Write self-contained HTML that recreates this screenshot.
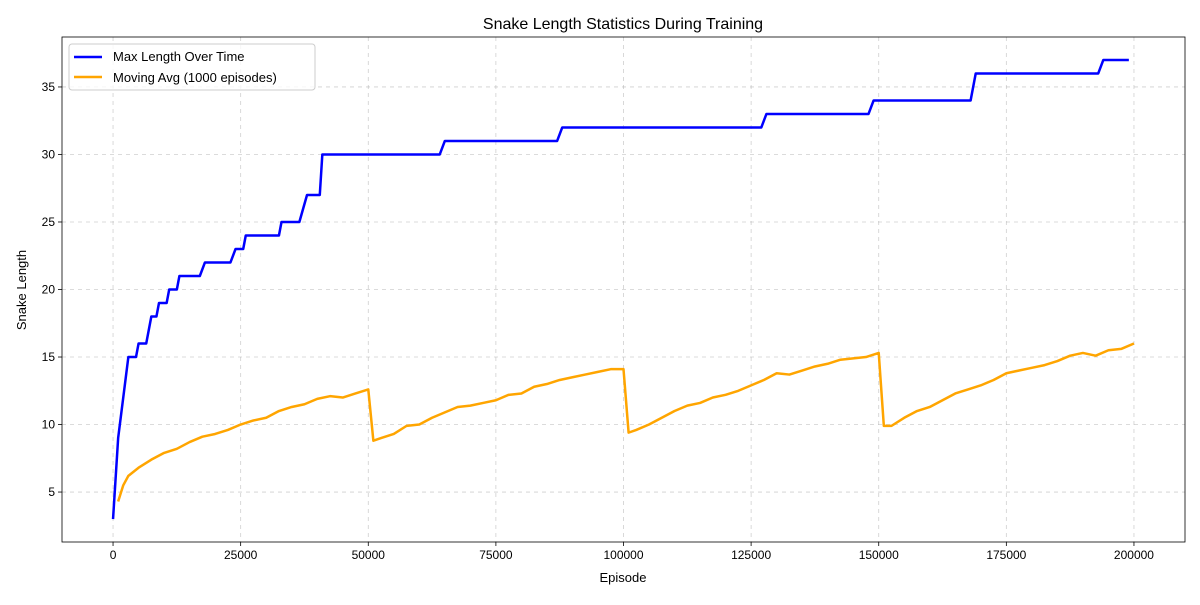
<!DOCTYPE html>
<html><head><meta charset="utf-8"><style>
body{margin:0;background:#fff;}
svg text{font-family:"Liberation Sans","DejaVu Sans",sans-serif;fill:#000;}
</style></head><body>
<svg id="chart" width="1200" height="600"></svg>
<script>
const maxEpisodes=[0,1000,3000,4500,5000,6500,7500,8500,9000,10500,11000,12500,13000,17000,18000,23000,24000,25500,26000,32500,33000,36500,38000,40500,41000,64000,65000,87000,88000,127000,128000,148000,149000,168000,169000,193000,194000,199000];
const maxValues=[3,9,15,15,16,16,18,18,19,19,20,20,21,21,22,22,23,23,24,24,25,25,27,27,30,30,31,31,32,32,33,33,34,34,36,36,37,37];
const avgEpisodes=[1000,2000,3000,5000,7500,10000,12500,15000,17500,20000,22500,25000,27500,30000,32500,35000,37500,40000,42500,45000,47500,50000,51000,52500,55000,57500,60000,62500,65000,67500,70000,72500,75000,77500,80000,82500,85000,87500,90000,92500,95000,97500,100000,101000,102500,105000,107500,110000,112500,115000,117500,120000,122500,125000,127500,130000,132500,135000,137500,140000,142500,145000,147500,150000,151000,152500,155000,157500,160000,162500,165000,167500,170000,172500,175000,177500,180000,182500,185000,187500,190000,192500,195000,197500,200000];
const avgValues=[4.3,5.5,6.2,6.8,7.4,7.9,8.2,8.7,9.1,9.3,9.6,10.0,10.3,10.5,11.0,11.3,11.5,11.9,12.1,12.0,12.3,12.6,8.8,9.0,9.3,9.9,10.0,10.5,10.9,11.3,11.4,11.6,11.8,12.2,12.3,12.8,13.0,13.3,13.5,13.7,13.9,14.1,14.1,9.4,9.6,10.0,10.5,11.0,11.4,11.6,12.0,12.2,12.5,12.9,13.3,13.8,13.7,14.0,14.3,14.5,14.8,14.9,15.0,15.3,9.9,9.9,10.5,11.0,11.3,11.8,12.3,12.6,12.9,13.3,13.8,14.0,14.2,14.4,14.7,15.1,15.3,15.1,15.5,15.6,16.0];
const xTicks=[0,25000,50000,75000,100000,125000,150000,175000,200000];
const yTicks=[5,10,15,20,25,30,35];
const L=62,R=1185,T=37,B=542,xmin=-10000,xmax=210000,ymin=1.3,ymax=38.7;
const sx=v=>L+(v-xmin)/(xmax-xmin)*(R-L);
const sy=v=>B-(v-ymin)/(ymax-ymin)*(B-T);
const svg=document.getElementById('chart');const NS='http://www.w3.org/2000/svg';
function mk(tag,attrs,parent){const e=document.createElementNS(NS,tag);for(const k in attrs)e.setAttribute(k,attrs[k]);(parent||svg).appendChild(e);return e;}
xTicks.forEach(t=>{const x=sx(t);
 const g=mk('line',{x1:x,x2:x,y1:T,y2:B,stroke:'#b0b0b0','stroke-width':0.8,'stroke-dasharray':'4,4',opacity:0.6});
 
 mk('line',{x1:x,x2:x,y1:B,y2:B+4,stroke:'#000','stroke-width':0.8});
 const tx=mk('text',{x:x,y:B+17,'text-anchor':'middle','font-size':12});tx.textContent=t;
 });
yTicks.forEach(t=>{const y=sy(t);
 const g=mk('line',{x1:L,x2:R,y1:y,y2:y,stroke:'#b0b0b0','stroke-width':0.8,'stroke-dasharray':'4,4',opacity:0.6});
 
 mk('line',{x1:L-4,x2:L,y1:y,y2:y,stroke:'#000','stroke-width':0.8});
 const tx=mk('text',{x:L-7,y:y+4,'text-anchor':'end','font-size':12});tx.textContent=t;
 });
const p1=mk('polyline',{points:maxEpisodes.map((e,i)=>sx(e)+','+sy(maxValues[i])).join(' '),fill:'none',stroke:'#0000ff','stroke-width':2.5,'stroke-linejoin':'round'});

const p2=mk('polyline',{points:avgEpisodes.map((e,i)=>sx(e)+','+sy(avgValues[i])).join(' '),fill:'none',stroke:'#ffa500','stroke-width':2.5,'stroke-linejoin':'round'});

const fr=mk('rect',{x:L,y:T,width:R-L,height:B-T,fill:'none',stroke:'#000','stroke-width':0.8});

</script>
<script>
(function(){const svg=document.getElementById('chart');const NS='http://www.w3.org/2000/svg';
function mk(tag,attrs){const e=document.createElementNS(NS,tag);for(const k in attrs)e.setAttribute(k,attrs[k]);svg.appendChild(e);return e;}
const t=mk('text',{x:623,y:29,'text-anchor':'middle','font-size':16});t.textContent='Snake Length Statistics During Training';

const xl=mk('text',{x:623,y:582,'text-anchor':'middle','font-size':13});xl.textContent='Episode';

const yl=mk('text',{x:26,y:290,'text-anchor':'middle','font-size':13,transform:'rotate(-90 26 290)'});yl.textContent='Snake Length';

const lg=mk('rect',{x:69,y:44,width:246,height:46,fill:'#fff','fill-opacity':0.8,stroke:'#ccc',rx:3});

mk('line',{x1:74,x2:102,y1:57,y2:57,stroke:'#0000ff','stroke-width':2.5});
const a=mk('text',{x:113,y:61,'font-size':13});a.textContent='Max Length Over Time';

mk('line',{x1:74,x2:102,y1:77,y2:77,stroke:'#ffa500','stroke-width':2.5});
const b=mk('text',{x:113,y:82,'font-size':13});b.textContent='Moving Avg (1000 episodes)';

})();
</script>
</body></html>
